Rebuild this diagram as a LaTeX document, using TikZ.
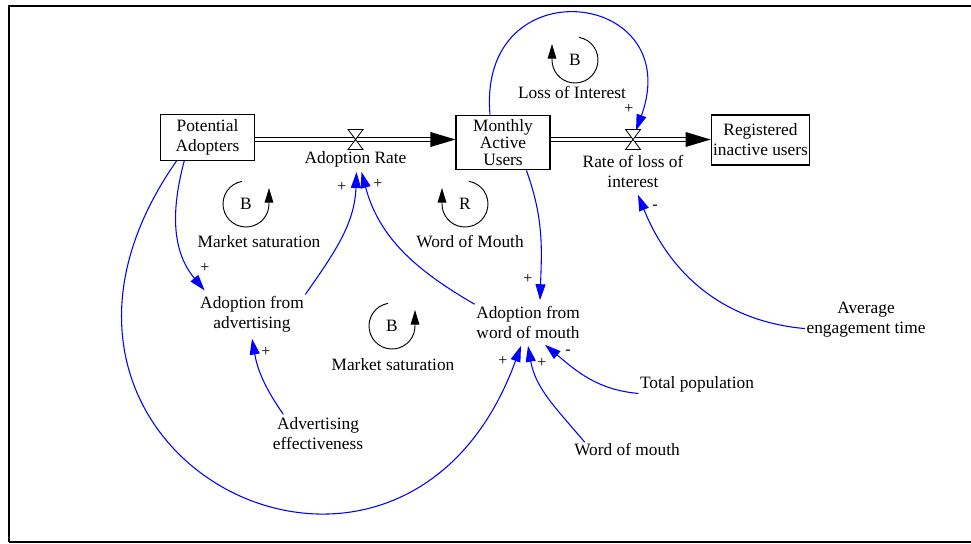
\documentclass[tikz,border=0pt]{standalone}
\usepackage{fontspec}
\setmainfont{Liberation Serif}
\usetikzlibrary{calc,arrows.meta}
\tikzset{
  stock/.style={draw, line width=0.8pt, align=center, inner sep=1pt},
  var/.style={align=center, inner sep=1pt},
  pipe/.style={double, double distance=2.6pt, line width=0.7pt},
  link/.style={draw=blue, line width=0.8pt, -{Triangle[length=12pt,width=7.5pt]}},
  loopline/.style={line width=0.7pt, -{Triangle[length=11pt,width=6.5pt]}},
  sign/.style={inner sep=0pt, font=\fontsize{12}{12}\selectfont},
}
\def\valve(#1){\draw[fill=white, line width=0.6pt] ($(#1)+(-7.5,10)$) -- ++(15,0) -- ++(-15,-20) -- ++(15,0) -- cycle;}
\def\flowhead(#1){\fill ($(#1)$) -- ++(-25,7.5) -- ++(0,-15) -- cycle;}
\def\loopccw(#1)#2#3{\draw[loopline] ($(#1)+(100:23)$) arc (100:360:23) -- ++(0,16); \node[var] (#2) at (#1) {#3};}
\def\loopcw(#1)#2#3{\draw[loopline] ($(#1)+(80:23)$) arc (80:-180:23) -- ++(0,16); \node[var] (#2) at (#1) {#3};}

\begin{document}
\begin{tikzpicture}[x=0.75pt, y=0.75pt, font=\fontsize{13}{15}\selectfont]
			%%%%% START %%%%%
			\useasboundingbox (0,0) rectangle (971,-543);
			\draw[line width=2pt] (9,-542) -- (9,-6) -- (971,-6);
			\draw[line width=1.6pt] (9,-542) -- (971,-542);
			
			% stocks
			\node[stock, minimum width=71pt, minimum height=34pt] (pa) at (207.5,-137.5) {Potential\\Adopters};
			\node[stock, minimum width=70.5pt, minimum height=41pt, font=\fontsize{13}{12.5}\selectfont] (mau) at (503,-142.5) {Monthly\\Active\\Users};
			\node[stock, minimum width=74pt, minimum height=37.5pt] (riu) at (760.5,-140) {Registered\\inactive users};
			
			% flows
			\coordinate (v1) at (355.5,-139.5);
			\coordinate (v2) at (633,-139.5);
			\draw[pipe] (pa.east |- v1) -- ($(mau.west |- v1)+(-22,0)$);
			\flowhead(mau.west |- v1)
			\draw[pipe] (mau.east |- v2) -- ($(riu.west |- v2)+(-22,0)$);
			\flowhead(riu.west |- v2)
			\valve(v1)
			\valve(v2)
			
			% variables
			\node[var] (ar) at (355.5,-159.5) {Adoption Rate};
			\node[var] (rli) at (633,-171) {Rate of loss of\\interest};
			\node[var] (afa) at (252,-314) {Adoption from\\advertising};
			\node[var] (awom) at (528,-322) {Adoption from\\word of mouth};
			\node[var] (ae) at (318,-434) {Advertising\\effectiveness};
			\node[var] (tp) at (697,-384) {Total population};
			\node[var] (wom) at (627,-450) {Word of mouth};
			\node[var] (aet) at (866,-320) {Average\\engagement time};
			
			% loops
			\loopccw(246,-204){lb1}{B}
			\node[var] (lb1t) at (259,-242) {Market saturation};
			\loopcw(465,-204){lr}{R}
			\node[var] (lrt) at (470,-242) {Word of Mouth};
			\loopcw(575,-60){lb2}{B}
			\node[var] (lb2t) at (572,-92) {Loss of Interest};
			\loopccw(392,-326){lb3}{B}
			\node[var] (lb3t) at (393,-365) {Market saturation};
			
			% links
			\draw[link] (pa.-135) to[out=-105, in=130] ($(afa.north west)+(6,4)$);
			\draw[link] (afa.north east) to[out=55, in=-92] ($(ar.south)+(1,-3)$);
			\draw[link] (awom.north west) to[out=150, in=-75] ($(ar.south)+(6,-3)$);
			\draw[link] (pa.-143) .. controls +(-125:360) and +(-110:350) .. ($(awom.south)+(-7,-6)$);
			\draw[link] ($(wom.north west)+(12,0)$) to[out=130, in=-80] ($(awom.south)+(0,-6)$);
			\draw[link] (tp.south west) to[out=175, in=-40] ($(awom.south)+(17,-5)$);
			\draw[link] (mau.-50) to[out=-70, in=88] ($(awom.north)+(12,4)$);
			\draw[link] (mau.115) .. controls +(95:150) and +(70:150) .. ($(v2)+(3,9)$);
			\draw[link] (aet.-172) to[out=175, in=-68] ($(rli.south)+(5,-6)$);
			\draw[link] ($(ae.north west)+(12,2)$) to[out=125, in=-80] ($(afa.south)+(0,-5)$);
			
			% polarities
			\node[sign] (s1) at (205,-268) {+};
			\node[sign] (s2) at (342,-187) {+};
			\node[sign] (s3) at (378,-184) {+};
			\node[sign] (s4) at (503,-361) {+};
			\node[sign] (s5) at (542,-363) {+};
			\node[sign] (s6) at (568,-352) {-};
			\node[sign] (s7) at (528,-279) {+};
			\node[sign] (s8) at (629,-109) {+};
			\node[sign] (s9) at (655,-207) {-};
			\node[sign] (s10) at (266,-352) {+};
			%%%%% END %%%%%
\end{tikzpicture}
\end{document}
